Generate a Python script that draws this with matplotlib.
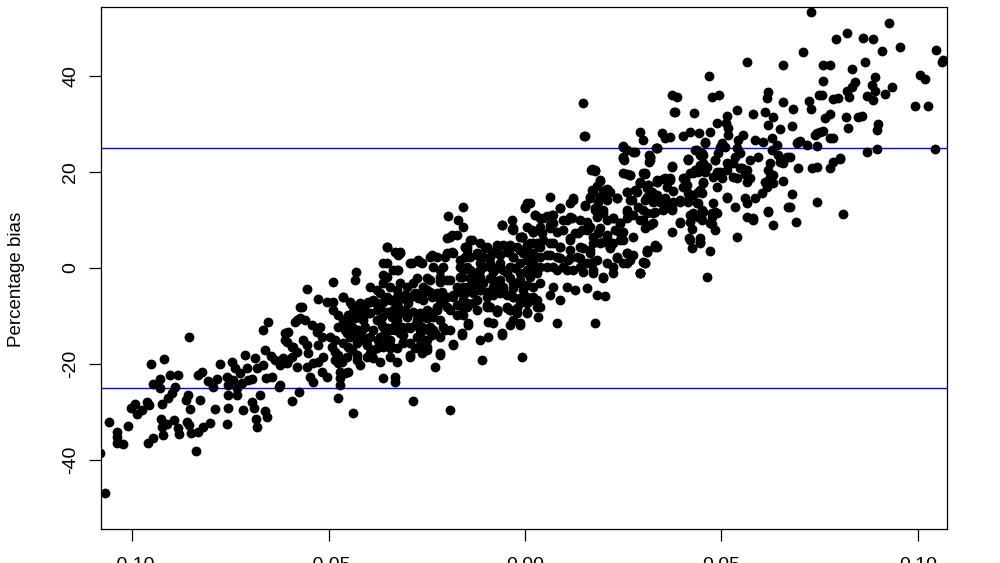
import matplotlib
matplotlib.use("Agg")
import matplotlib.pyplot as plt

# (x, percentage bias), grouped left to right
pts_far_left = [
    (-0.1069, -46.9), (-0.1081, -38.5), (-0.1059, -32.1), (-0.1038, -34.2), (-0.1038, -35.2),
    (-0.1038, -36.5), (-0.1023, -36.7), (-0.1010, -32.9), (-0.1003, -29.2), (-0.0992, -28.3),
    (-0.0987, -30.4), (-0.0975, -29.6), (-0.0959, -36.5), (-0.0947, -35.4), (-0.0962, -27.9),
    (-0.0957, -28.5), (-0.0952, -20.0), (-0.0947, -24.2), (-0.0929, -23.1), (-0.0929, -25.0),
    (-0.0919, -19.0), (-0.0924, -28.3), (-0.0926, -31.5), (-0.0924, -33.1), (-0.0921, -34.8),
    (-0.0911, -32.5), (-0.0903, -22.3), (-0.0883, -22.3), (-0.0891, -24.8), (-0.0898, -26.0),
    (-0.0908, -27.1), (-0.0893, -31.7), (-0.0883, -33.3), (-0.0880, -34.6), (-0.0855, -14.4),
    (-0.0858, -26.5), (-0.0863, -27.5), (-0.0852, -29.4), (-0.0860, -32.1), (-0.0855, -32.7),
    (-0.0850, -34.4), (-0.0837, -38.1), (-0.0832, -22.3), (-0.0822, -21.7), (-0.0827, -27.5),
    (-0.0832, -34.2), (-0.0819, -33.1), (-0.0802, -32.3), (-0.0807, -23.5), (-0.0794, -24.8),
    (-0.0789, -29.4), (-0.0784, -23.1), (-0.0776, -20.0),
]

pts_left = [
    (-0.0758, -22.7), (-0.0756, -24.4), (-0.0756, -26.5), (-0.0756, -29.2), (-0.0758, -32.5),
    (-0.0746, -19.6), (-0.0738, -20.8), (-0.0743, -23.3), (-0.0733, -25.0), (-0.0733, -26.5),
    (-0.0725, -21.9), (-0.0720, -24.0), (-0.0712, -18.1), (-0.0707, -20.8), (-0.0705, -23.3),
    (-0.0718, -29.6), (-0.0695, -27.9), (-0.0690, -29.2), (-0.0684, -31.5), (-0.0682, -33.1),
    (-0.0695, -23.1), (-0.0687, -18.8), (-0.0682, -20.8), (-0.0667, -20.2), (-0.0662, -17.1),
    (-0.0667, -12.9), (-0.0654, -11.3), (-0.0674, -26.5), (-0.0662, -29.8), (-0.0656, -31.0),
    (-0.0659, -22.9), (-0.0644, -22.7), (-0.0626, -24.8), (-0.0646, -18.3), (-0.0636, -19.2),
    (-0.0623, -20.2), (-0.0611, -19.6), (-0.0603, -19.2), (-0.0611, -13.5), (-0.0603, -13.3),
    (-0.0606, -15.4), (-0.0593, -16.5), (-0.0585, -11.3), (-0.0580, -17.5), (-0.0580, -20.6),
    (-0.0593, -27.7), (-0.0575, -25.8), (-0.0573, -8.1), (-0.0623, -24.4), (-0.0610, -15.0),
    (-0.0616, -18.8), (-0.0606, -19.8), (-0.0593, -18.5), (-0.0590, -16.5), (-0.0580, -10.8),
    (-0.0573, -10.4), (-0.0560, -10.8), (-0.0567, -8.1), (-0.0555, -4.4), (-0.0565, -15.0),
    (-0.0555, -16.0), (-0.0552, -17.7), (-0.0555, -20.6), (-0.0547, -22.7), (-0.0540, -23.8),
    (-0.0542, -11.9), (-0.0529, -13.3), (-0.0522, -12.3), (-0.0517, -14.4), (-0.0527, -16.0),
    (-0.0514, -18.5), (-0.0517, -21.7), (-0.0504, -22.7), (-0.0527, -19.6), (-0.0540, -19.8),
]

pts_mid_left = [
    (-0.0527, -6.5), (-0.0504, -7.1), (-0.0489, -7.1), (-0.0489, -2.9), (-0.0463, -6.0),
    (-0.0496, -14.4), (-0.0491, -16.5), (-0.0483, -17.5), (-0.0476, -18.1), (-0.0476, -19.8),
    (-0.0471, -21.7), (-0.0471, -22.9), (-0.0471, -24.4), (-0.0476, -27.1), (-0.0438, -30.2),
    (-0.0466, -19.6), (-0.0458, -21.9), (-0.0450, -21.7), (-0.0453, -13.5), (-0.0450, -12.3),
    (-0.0445, -10.4), (-0.0440, -7.7), (-0.0433, -2.5), (-0.0430, -0.8), (-0.0450, -16.5),
    (-0.0440, -17.1), (-0.0427, -15.6), (-0.0427, -19.2), (-0.0420, -20.2), (-0.0425, -14.4),
    (-0.0415, -12.9), (-0.0412, -10.8), (-0.0407, -7.7), (-0.0394, -7.1), (-0.0382, -7.1),
    (-0.0400, -9.4), (-0.0394, -4.0), (-0.0377, -4.6), (-0.0400, -14.6), (-0.0394, -17.7),
    (-0.0387, -18.8), (-0.0369, -19.6), (-0.0377, -16.7), (-0.0369, -16.0), (-0.0351, 4.4),
    (-0.0351, 1.0), (-0.0361, -1.5), (-0.0351, -1.9), (-0.0326, -4.6), (-0.0331, 3.3),
    (-0.0318, 3.1), (-0.0364, -10.2), (-0.0361, -12.3), (-0.0356, -13.5), (-0.0349, -15.0),
    (-0.0344, -16.7), (-0.0361, -22.9), (-0.0331, -22.7), (-0.0331, -23.8), (-0.0326, -19.6),
    (-0.0285, -27.7), (-0.0344, -18.5), (-0.0326, -0.4), (-0.0331, -7.1), (-0.0323, -8.1),
    (-0.0338, -10.2), (-0.0331, -11.9), (-0.0318, -12.9), (-0.0310, -14.0), (-0.0305, -8.8),
    (-0.0298, -7.3), (-0.0293, -18.5), (-0.0489, -8.8), (-0.0476, -9.8), (-0.0463, -10.8),
    (-0.0450, -9.8), (-0.0438, -9.2), (-0.0420, -8.8), (-0.0407, -9.4), (-0.0476, -12.3),
    (-0.0458, -12.9), (-0.0440, -12.3), (-0.0425, -12.9), (-0.0407, -12.3), (-0.0483, -15.0),
    (-0.0463, -15.6), (-0.0445, -14.4), (-0.0420, -14.0), (-0.0402, -16.0), (-0.0483, -19.2),
    (-0.0453, -18.5), (-0.0427, -18.1), (-0.0402, -18.5), (-0.0387, -17.1),
]

pts_centre_left = [
    (-0.0288, 1.0), (-0.0272, 1.7), (-0.0262, 1.0), (-0.0275, -2.1), (-0.0249, -2.1),
    (-0.0249, -4.6), (-0.0267, -5.2), (-0.0260, -6.7), (-0.0249, -8.8), (-0.0260, -10.2),
    (-0.0272, -10.8), (-0.0267, -12.9), (-0.0275, -14.4), (-0.0260, -15.0), (-0.0249, -16.5),
    (-0.0262, -17.7), (-0.0242, -12.3), (-0.0237, -14.0), (-0.0234, -10.2), (-0.0224, 2.3),
    (-0.0237, 2.7), (-0.0229, -20.6), (-0.0216, -18.1), (-0.0204, 2.3), (-0.0198, 6.3),
    (-0.0186, 6.9), (-0.0209, 0.2), (-0.0216, -1.9), (-0.0198, -2.5), (-0.0211, -5.0),
    (-0.0209, -7.1), (-0.0224, -8.1), (-0.0216, -10.8), (-0.0204, -12.9), (-0.0183, -16.0),
    (-0.0160, -14.0), (-0.0145, -11.9), (-0.0191, -29.6), (-0.0196, 10.8), (-0.0170, 10.0),
    (-0.0158, 12.7), (-0.0158, 8.5), (-0.0369, -5.2), (-0.0351, -6.0), (-0.0338, -6.7),
    (-0.0326, -6.0), (-0.0313, -6.3), (-0.0305, -5.6), (-0.0293, -6.0), (-0.0280, -5.2),
    (-0.0272, -6.3), (-0.0260, -5.2), (-0.0237, -6.0), (-0.0224, -5.2), (-0.0369, -8.1),
    (-0.0351, -9.2), (-0.0336, -8.8), (-0.0318, -9.4), (-0.0300, -9.8), (-0.0285, -9.2),
    (-0.0267, -9.4), (-0.0249, -10.4), (-0.0234, -9.4), (-0.0224, -8.3), (-0.0377, -10.8),
    (-0.0364, -11.9), (-0.0349, -12.5), (-0.0331, -12.9), (-0.0313, -12.3), (-0.0298, -12.3),
    (-0.0280, -11.9), (-0.0262, -12.3), (-0.0247, -12.9), (-0.0229, -13.5), (-0.0216, -14.4),
    (-0.0374, -15.0), (-0.0361, -16.5), (-0.0344, -16.0), (-0.0326, -16.7), (-0.0310, -15.4),
    (-0.0293, -15.6), (-0.0280, -16.7), (-0.0267, -16.0), (-0.0249, -17.1),
]

pts_core_left = [
    (-0.0463, -6.0), (-0.0445, -7.1), (-0.0420, -7.3), (-0.0400, -7.1), (-0.0387, -6.7),
    (-0.0453, -10.8), (-0.0433, -10.4), (-0.0412, -10.2), (-0.0394, -9.4), (-0.0377, -8.8),
    (-0.0361, -7.1), (-0.0344, -6.7), (-0.0326, -7.3), (-0.0310, -6.3), (-0.0293, -6.0),
    (-0.0275, -5.6), (-0.0260, -5.0), (-0.0242, -5.0), (-0.0224, -5.6), (-0.0216, -6.7),
    (-0.0198, -6.0), (-0.0183, -5.6), (-0.0165, -5.0), (-0.0148, -4.2), (-0.0132, -4.0),
    (-0.0115, -4.6), (-0.0097, -5.0), (-0.0081, -5.6), (-0.0064, -5.2), (-0.0046, -5.6),
    (-0.0031, -6.0), (-0.0013, -6.3), (0.0005, -6.0), (0.0020, -6.7), (-0.0351, 4.4),
    (-0.0318, 3.3), (-0.0323, 2.7), (-0.0361, 1.0), (-0.0336, -0.4), (-0.0323, -0.4),
    (-0.0293, 1.0), (-0.0267, 1.3), (-0.0242, 2.3), (-0.0234, 0.2), (-0.0216, -0.4),
    (-0.0198, 3.1), (-0.0186, 3.3), (-0.0191, 6.5), (-0.0173, 6.9), (-0.0153, 4.4),
    (-0.0140, 5.8), (-0.0140, 2.3), (-0.0122, 3.1), (-0.0115, -0.4), (-0.0097, 4.2),
    (-0.0071, 4.8), (-0.0059, 9.0), (-0.0031, 8.3), (-0.0008, 6.5), (0.0005, 4.4),
    (0.0020, 7.5), (0.0033, 4.8), (-0.0046, 3.3), (-0.0031, 2.3), (0.0005, 1.7),
    (0.0020, -0.4), (-0.0013, -1.0), (-0.0046, -1.0), (-0.0071, 0.0), (-0.0089, 1.0),
    (-0.0361, -3.1), (-0.0344, -4.0), (-0.0318, -3.1), (-0.0300, -4.0), (-0.0285, -3.1),
    (-0.0260, -4.0), (-0.0242, -2.5), (-0.0216, -2.9), (-0.0191, -2.5), (-0.0165, -1.9),
    (-0.0140, -2.1), (-0.0115, -1.9), (-0.0089, -2.1), (-0.0064, -2.5), (-0.0038, -2.1),
    (-0.0013, -2.5), (0.0013, -1.9), (-0.0351, -9.4), (-0.0326, -10.8), (-0.0300, -10.2),
    (-0.0275, -10.8), (-0.0249, -9.4), (-0.0224, -8.8), (-0.0198, -8.1), (-0.0173, -7.7),
    (-0.0148, -7.3), (-0.0122, -6.7), (-0.0097, -8.1), (-0.0071, -8.8), (-0.0046, -8.3),
    (-0.0020, -9.4), (0.0005, -9.2), (-0.0344, -12.9), (-0.0318, -13.5), (-0.0293, -12.5),
    (-0.0267, -14.0), (-0.0249, -15.0), (-0.0234, -12.9), (-0.0209, -12.3), (-0.0191, -12.9),
    (-0.0344, -15.0), (-0.0310, -15.6), (-0.0387, -12.9), (-0.0369, -14.4), (-0.0420, -15.0),
    (-0.0394, -14.4), (-0.0463, -12.3), (-0.0445, -13.5), (-0.0427, -12.9), (-0.0293, -18.1),
    (-0.0216, -17.7), (-0.0183, -15.8),
]

pts_centre = [
    (-0.0183, 3.1), (-0.0165, 1.7), (-0.0153, 4.4), (-0.0135, 5.8), (-0.0148, 0.2),
    (-0.0160, -1.9), (-0.0173, -4.0), (-0.0183, -6.0), (-0.0191, -8.8), (-0.0173, -9.8),
    (-0.0158, -8.3), (-0.0153, -5.2), (-0.0132, -2.5), (-0.0115, -0.4), (-0.0115, -4.6),
    (-0.0097, -6.0), (-0.0081, -2.5), (-0.0107, 2.3), (-0.0097, 4.4), (-0.0071, 4.2),
    (-0.0056, 4.8), (-0.0038, 4.2), (-0.0031, 7.9), (-0.0008, 6.5), (0.0020, 5.2),
    (0.0020, 1.0), (0.0005, -1.0), (-0.0013, -3.1), (-0.0031, -6.0), (-0.0038, -8.8),
    (-0.0031, -10.8), (-0.0013, -11.9), (0.0005, -9.4), (0.0020, -6.0), (0.0031, -8.1),
    (-0.0064, -4.0), (-0.0071, -8.8), (-0.0081, -11.5), (-0.0115, -15.0), (-0.0094, -14.4),
    (-0.0059, -14.0), (-0.0008, -18.5), (-0.0109, -19.2), (-0.0033, 10.0), (-0.0059, 9.0),
    (-0.0033, 8.1), (-0.0148, 4.4), (-0.0102, 4.2), (-0.0038, 4.8), (-0.0020, 4.4),
    (-0.0153, 2.3), (-0.0122, 2.7), (-0.0089, 2.3), (-0.0064, 2.7), (-0.0031, 2.3),
    (-0.0158, -0.4), (-0.0127, -1.0), (-0.0107, 0.2), (-0.0081, -0.8), (-0.0056, -0.4),
    (-0.0025, 0.0), (-0.0148, -4.0), (-0.0115, -3.1), (-0.0081, -4.0), (-0.0056, -4.6),
    (-0.0031, -4.2), (0.0005, -3.5), (-0.0158, -6.7), (-0.0132, -7.3), (-0.0089, -8.1),
    (-0.0071, -9.2), (-0.0038, -8.8), (-0.0013, -7.3), (0.0013, -6.7), (-0.0158, -9.8),
    (-0.0145, -11.5), (-0.0094, -11.3), (-0.0059, -13.5), (-0.0038, -11.9), (-0.0013, -11.5),
    (0.0033, -10.2), (-0.0160, -13.5), (-0.0165, 0.2), (-0.0140, -0.4), (-0.0115, 1.0),
    (-0.0089, 0.2), (-0.0064, 1.0), (-0.0038, 0.2), (-0.0013, 1.0), (0.0013, 0.2),
    (0.0031, -0.4), (-0.0158, -4.0), (-0.0132, -5.2), (-0.0107, -3.1), (-0.0081, -4.6),
    (-0.0056, -4.0), (-0.0031, -3.1), (-0.0005, -4.6), (0.0020, -4.0), (-0.0148, -8.1),
    (-0.0122, -8.8), (-0.0097, -7.7), (-0.0071, -8.8), (-0.0046, -8.1), (-0.0020, -8.3),
    (0.0005, -7.3), (0.0031, -6.7), (-0.0148, 3.8), (-0.0115, 5.2), (-0.0081, 3.1),
    (-0.0046, 3.8), (-0.0013, 3.8), (0.0020, 3.1),
]

pts_centre_right = [
    (0.0153, 27.5), (0.0148, 34.4), (0.0249, 25.2), (0.0275, 24.2), (0.0249, 22.9),
    (0.0293, 28.3), (0.0300, 26.7), (0.0318, 22.5), (0.0316, 23.5), (0.0336, 25.0),
    (0.0170, 20.6), (0.0178, 20.4), (0.0249, 19.8), (0.0267, 19.4), (0.0305, 19.8),
    (0.0191, 18.3), (0.0293, 17.9), (0.0313, 17.3), (0.0336, 18.3), (0.0173, 15.8),
    (0.0204, 16.3), (0.0216, 15.8), (0.0260, 15.8), (0.0280, 16.3), (0.0165, 14.6),
    (0.0186, 13.8), (0.0209, 14.2), (0.0234, 14.6), (0.0267, 14.2), (0.0310, 14.8),
    (0.0326, 13.8), (0.0064, 14.8), (0.0122, 14.6), (0.0115, 13.5), (0.0153, 12.9),
    (0.0178, 12.5), (0.0198, 12.1), (0.0260, 11.7), (0.0275, 11.0), (0.0300, 12.1),
    (0.0326, 11.5), (0.0005, 13.5), (0.0000, 12.5), (0.0089, 12.5), (0.0013, 13.5),
    (0.0025, 11.0), (0.0038, 10.4), (0.0056, 10.8), (0.0071, 11.0), (0.0107, 10.0),
    (0.0120, 10.4), (0.0140, 10.0), (0.0158, 9.6), (0.0183, 10.6), (0.0209, 10.0),
    (0.0224, 10.4), (0.0242, 9.4), (0.0260, 10.4), (0.0293, 10.0), (0.0305, 8.3),
    (0.0318, 9.0), (-0.0008, 6.5), (0.0018, 7.9), (0.0038, 8.5), (0.0064, 9.0),
    (0.0081, 7.5), (0.0097, 7.9), (0.0115, 6.3), (0.0135, 7.3), (0.0158, 7.9),
    (0.0173, 6.5), (0.0191, 8.3), (0.0209, 6.9), (0.0229, 7.9), (0.0249, 7.5),
    (0.0275, 6.5), (0.0224, 5.2), (0.0242, 5.8), (0.0005, 4.8), (0.0031, 5.2),
    (0.0046, 5.8), (0.0071, 5.2), (0.0089, 4.4), (0.0115, 3.8), (0.0148, 4.2),
    (0.0173, 5.2), (0.0198, 5.4), (0.0216, 4.2), (0.0005, 2.7), (0.0038, 2.3),
    (0.0064, 2.7), (0.0089, 2.1), (0.0115, 2.1), (0.0140, 2.1), (0.0165, 3.1),
    (0.0173, 1.3), (0.0234, 2.1), (0.0260, 3.1), (0.0275, 2.7), (0.0310, 3.8),
    (0.0331, 4.8), (0.0336, 4.4), (0.0005, -0.4), (0.0031, -1.0), (0.0056, 0.2),
    (0.0081, -0.4), (0.0107, -0.4), (0.0140, 0.2), (0.0173, -0.4), (0.0198, -2.1),
    (0.0224, 0.2), (0.0249, 1.0), (0.0300, 1.3), (0.0293, -1.0), (0.0038, -3.1),
    (0.0071, -4.0), (0.0107, -4.0), (0.0127, -4.6), (0.0158, -4.2), (0.0183, -5.6),
    (0.0204, -5.8), (0.0089, -6.7), (0.0064, -5.6), (0.0038, -8.1), (0.0081, -11.5),
    (0.0178, -11.5),
]

pts_core_right = [
    (0.0150, 27.5), (0.0382, 32.5), (0.0249, 25.4), (0.0260, 24.6), (0.0280, 24.2),
    (0.0249, 23.1), (0.0252, 22.5), (0.0318, 23.1), (0.0316, 22.1), (0.0336, 25.0),
    (0.0374, 21.0), (0.0415, 22.7), (0.0433, 24.6), (0.0458, 26.0), (0.0450, 24.0),
    (0.0483, 22.5), (0.0491, 24.0), (0.0168, 20.4), (0.0178, 20.2), (0.0191, 18.1),
    (0.0183, 17.1), (0.0170, 16.3), (0.0209, 16.5), (0.0198, 15.6), (0.0234, 14.6),
    (0.0260, 19.6), (0.0267, 19.4), (0.0293, 17.7), (0.0305, 19.6), (0.0313, 17.3),
    (0.0336, 17.9), (0.0351, 18.5), (0.0369, 18.8), (0.0361, 16.9), (0.0377, 16.0),
    (0.0285, 15.8), (0.0260, 15.8), (0.0272, 14.2), (0.0260, 12.1), (0.0288, 12.7),
    (0.0305, 14.2), (0.0323, 15.6), (0.0343, 13.8), (0.0361, 13.1), (0.0374, 12.1),
    (0.0394, 14.2), (0.0407, 18.3), (0.0420, 19.8), (0.0433, 20.4), (0.0445, 21.5),
    (0.0463, 21.0), (0.0453, 17.9), (0.0445, 16.3), (0.0427, 15.2), (0.0415, 14.2),
    (0.0438, 13.5), (0.0450, 12.1), (0.0478, 19.0), (0.0489, 16.9), (0.0476, 11.5),
    (0.0478, 13.5), (0.0000, 12.7), (0.0025, 11.0), (0.0046, 10.4), (0.0069, 11.0),
    (0.0005, 8.5), (0.0020, 7.5), (0.0043, 7.3), (0.0064, 8.3), (0.0071, 9.4),
    (0.0089, 12.5), (0.0097, 10.0), (0.0115, 10.6), (0.0122, 14.2), (0.0153, 13.1),
    (0.0165, 14.8), (0.0191, 14.8), (0.0211, 16.3), (0.0178, 12.1), (0.0198, 11.5),
    (0.0224, 10.4), (0.0242, 9.4), (0.0127, 7.3), (0.0145, 7.9), (0.0165, 8.5),
    (0.0186, 7.3), (0.0209, 6.3), (0.0242, 7.3), (0.0249, 5.8), (-0.0013, 6.5),
    (0.0013, 5.2), (0.0038, 4.4), (0.0064, 5.2), (0.0089, 4.4), (0.0115, 5.8),
    (0.0140, 4.4), (0.0165, 3.8), (0.0191, 5.2), (0.0216, 4.4), (-0.0005, 3.1),
    (0.0020, 2.3), (0.0056, 2.7), (0.0081, 2.3), (0.0109, 1.7), (0.0132, 2.3),
    (0.0158, 1.0), (0.0183, 1.7), (0.0209, 1.0), (0.0234, 2.3), (0.0260, 3.1),
    (0.0267, 1.7), (0.0038, 0.2), (0.0071, 0.2), (0.0097, 0.2), (0.0122, -0.4),
    (0.0148, -0.8), (0.0173, -1.0), (0.0198, -1.9), (0.0224, -1.0), (0.0260, 1.0),
    (0.0293, -1.0), (0.0305, 1.0), (0.0331, 4.4), (0.0310, 3.3),
]

pts_right = [
    (0.0565, 42.9), (0.0656, 42.3), (0.0468, 40.0), (0.0374, 36.0), (0.0387, 35.6),
    (0.0476, 35.6), (0.0494, 36.0), (0.0618, 36.7), (0.0616, 35.4), (0.0656, 34.6),
    (0.0723, 34.8), (0.0748, 36.0), (0.0379, 32.5), (0.0430, 32.3), (0.0539, 32.9),
    (0.0580, 32.1), (0.0611, 32.5), (0.0631, 31.5), (0.0682, 33.1), (0.0728, 33.1),
    (0.0349, 28.1), (0.0356, 27.1), (0.0369, 27.3), (0.0402, 27.5), (0.0420, 28.3),
    (0.0443, 28.1), (0.0471, 28.3), (0.0489, 30.2), (0.0514, 31.7), (0.0511, 30.2),
    (0.0517, 29.2), (0.0618, 29.8), (0.0649, 29.0), (0.0679, 29.6), (0.0738, 27.7),
    (0.0751, 28.3), (0.0458, 26.3), (0.0501, 26.0), (0.0517, 27.7), (0.0542, 26.7),
    (0.0555, 27.7), (0.0585, 26.7), (0.0606, 26.3), (0.0628, 27.1), (0.0641, 25.6),
    (0.0695, 26.3), (0.0718, 25.6), (0.0743, 25.4), (0.0318, 23.1), (0.0333, 25.0),
    (0.0438, 24.6), (0.0453, 23.5), (0.0496, 25.2), (0.0509, 25.2), (0.0539, 25.0),
    (0.0547, 24.0), (0.0573, 22.5), (0.0593, 23.1), (0.0628, 24.6), (0.0644, 23.5),
    (0.0667, 23.1), (0.0649, 22.1), (0.0695, 20.8), (0.0730, 20.8), (0.0743, 21.0),
    (0.0374, 21.3), (0.0415, 22.7), (0.0435, 20.4), (0.0445, 21.0), (0.0458, 20.0),
    (0.0483, 22.5), (0.0496, 20.0), (0.0514, 20.4), (0.0529, 21.9), (0.0547, 20.8),
    (0.0565, 20.4), (0.0618, 20.4), (0.0631, 19.4), (0.0656, 18.1), (0.0618, 17.9),
    (0.0616, 16.9), (0.0300, 19.8), (0.0293, 17.7), (0.0310, 16.7), (0.0323, 15.8),
    (0.0336, 17.9), (0.0356, 18.8), (0.0369, 18.3), (0.0407, 18.8), (0.0402, 16.9),
    (0.0415, 15.6), (0.0440, 15.8), (0.0453, 17.7), (0.0539, 18.8), (0.0573, 18.8),
    (0.0313, 14.8), (0.0336, 15.2), (0.0356, 14.6), (0.0377, 13.8), (0.0310, 11.5),
    (0.0331, 11.7), (0.0351, 12.1), (0.0374, 12.5), (0.0394, 9.4), (0.0420, 11.0),
    (0.0440, 13.5), (0.0453, 11.7), (0.0476, 10.6), (0.0489, 11.5), (0.0514, 14.8),
    (0.0534, 12.7), (0.0565, 13.5), (0.0585, 14.6), (0.0603, 15.6), (0.0618, 11.7),
    (0.0679, 15.4), (0.0669, 12.7), (0.0743, 13.8), (0.0300, 10.0), (0.0326, 9.4),
    (0.0374, 7.5), (0.0425, 10.6), (0.0450, 10.0), (0.0471, 9.4), (0.0483, 7.9),
    (0.0420, 5.8), (0.0445, 5.4), (0.0425, 4.2), (0.0471, 3.5), (0.0539, 6.5),
    (0.0565, 10.6), (0.0580, 10.0), (0.0631, 9.0), (0.0690, 9.6), (0.0310, 3.3),
    (0.0305, 1.0), (0.0331, 4.6), (0.0293, -1.0), (0.0463, -1.9), (0.0809, 11.3),
    (0.0415, 22.5), (0.0445, 23.5), (0.0453, 21.9), (0.0427, 19.8), (0.0440, 20.0),
    (0.0458, 20.8), (0.0402, 18.8), (0.0412, 17.3), (0.0450, 15.6), (0.0415, 13.8),
    (0.0394, 13.8), (0.0427, 11.5), (0.0440, 10.6), (0.0483, 11.7), (0.0476, 9.2),
    (0.0394, 9.6), (0.0420, 9.6), (0.0425, 8.1), (0.0417, 6.3), (0.0445, 6.3),
    (0.0445, 5.2), (0.0501, 18.8), (0.0489, 20.0), (0.0529, 19.0), (0.0514, 21.9),
    (0.0534, 23.1), (0.0552, 20.8), (0.0560, 19.6), (0.0623, 21.9), (0.0656, 21.9),
    (0.0623, 19.0), (0.0631, 17.7), (0.0611, 17.9), (0.0565, 17.9), (0.0514, 14.6),
    (0.0580, 10.4), (0.0560, 14.6), (0.0618, 11.9),
]

pts_far_right = [
    (0.0728, 53.3), (0.0926, 51.0), (0.0791, 47.7), (0.0819, 49.0), (0.0860, 47.9),
    (0.0885, 47.7), (0.0707, 45.0), (0.0908, 45.2), (0.0954, 46.0), (0.1046, 45.4),
    (0.1064, 43.3), (0.1061, 42.9), (0.0758, 42.3), (0.0776, 42.3), (0.0832, 41.5),
    (0.0865, 42.9), (0.0891, 39.8), (0.1005, 40.2), (0.1018, 39.4), (0.0758, 39.0),
    (0.0840, 38.8), (0.0832, 37.7), (0.0883, 38.1), (0.0891, 36.9), (0.0934, 37.7),
    (0.0916, 36.2), (0.0870, 35.8), (0.0885, 35.0), (0.0819, 36.9), (0.0824, 35.6),
    (0.0756, 36.0), (0.0784, 35.2), (0.0796, 35.4), (0.0992, 33.8), (0.1025, 33.8),
    (0.0763, 31.3), (0.0776, 32.1), (0.0817, 31.5), (0.0822, 29.2), (0.0847, 31.5),
    (0.0858, 31.7), (0.0898, 30.0), (0.0896, 28.8), (0.0743, 28.1), (0.0758, 28.5),
    (0.0776, 27.1), (0.0784, 27.1), (0.0692, 26.0), (0.0700, 26.5), (0.0674, 23.1),
    (0.0870, 24.2), (0.0896, 24.8), (0.1043, 24.8), (0.0776, 20.8), (0.0784, 22.1),
    (0.0802, 22.7), (0.0802, 22.9), (0.0674, 12.7),
]

groups = [pts_far_left, pts_left, pts_mid_left, pts_centre_left, pts_core_left,
          pts_centre, pts_centre_right, pts_core_right, pts_right, pts_far_right]
x_vals = [p[0] for g in groups for p in g]
y_vals = [p[1] for g in groups for p in g]

limits = [-25, 25]
x_ticks = [-0.10, -0.05, 0.00, 0.05, 0.10]
x_labels = ["-0.10", "-0.05", "0.00", "0.05", "0.10"]
y_ticks = [-40, -20, 0, 20, 40]
y_labels = ["-40", "-20", "0", "20", "40"]

plt.rcParams["font.family"] = ["Liberation Sans", "DejaVu Sans"]

fig = plt.figure(figsize=(10, 5.63), dpi=100)
ax = fig.add_axes([0.101, 0.0604, 0.846, 0.9272])

ax.scatter(x_vals, y_vals, s=50, c="black", linewidths=0, zorder=3)
for lim in limits:
    ax.axhline(lim, color="#0000ff", lw=1.0, zorder=2)

ax.set_xlim(-0.1079, 0.1074)
ax.set_ylim(-54.4, 54.4)
ax.set_xticks(x_ticks)
ax.set_xticklabels(x_labels)
ax.set_yticks(y_ticks)
ax.set_yticklabels(y_labels, rotation=90, va="center")

for side in ax.spines.values():
    side.set_linewidth(0.9)
ax.tick_params(axis="both", direction="out", length=8.5, width=0.9, labelsize=14)
ax.tick_params(axis="x", pad=12)
ax.tick_params(axis="y", pad=7)

fig.text(0.017, 0.503, "Percentage bias", rotation=90, ha="center", va="center", fontsize=13.5)

fig.savefig("out.png", dpi=100)
